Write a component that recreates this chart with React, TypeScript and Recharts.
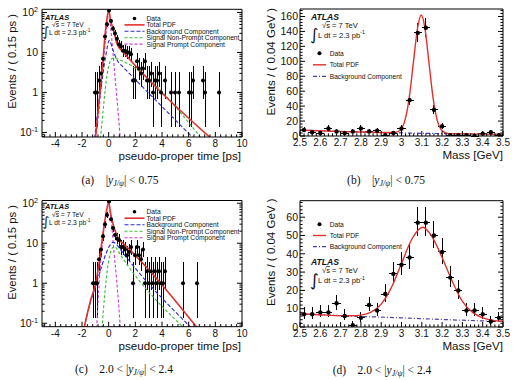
import React from 'react';
import { ComposedChart, Line, Scatter, XAxis, YAxis, ErrorBar } from 'recharts';

const SANS = '"Liberation Sans", Arial, Helvetica, sans-serif';
const SERIF = '"Liberation Serif", "Times New Roman", Times, serif';
const INK = '#111';
const RED = '#e3302c';
const BLUE = '#2a2ad4';
const GREEN = '#35c035';
const MAGENTA = '#cc3ccc';
const BKG_MASS = '#4a40b0';

// ---------------- Panel (a): |y| < 0.75, pseudo-proper time ----------------
const aTime = [-1.025, -0.875, -0.725, -0.575, -0.425, -0.275, -0.125, 0.025, 0.175, 0.325, 0.475, 0.625, 0.775, 0.925, 1.075, 1.225, 1.375, 1.525, 1.675, 1.825, 1.975, 2.125, 2.275, 2.425, 2.575, 2.725, 2.875, 3.025, 3.175, 3.325, 3.475, 3.625, 3.775, 3.925, 4.225, 4.675, 4.975, 5.275, 6.025, 6.175, 6.325, 7.075, 7.225, 8.275];
const aCounts = [1, 1, 2, 3, 7, 25, 51, 112, 61, 39, 30, 22, 16, 14, 11, 11, 10, 10, 9, 2, 2, 6, 4, 3, 4, 6, 2, 2, 3, 1, 2, 2, 3, 1, 2, 1, 1, 1, 1, 1, 2, 2, 1, 1];
const aTotalT = [-1.0, -0.78, -0.52, -0.4, -0.28, -0.15, 0.0, 0.15, 0.28, 0.43, 0.55, 0.73, 1.0, 7.6];
const aTotalV = [0.07, 0.37, 3, 8, 26, 62, 112, 62, 44, 30, 20, 14, 11, 0.075];
const aBkgT = [-1.05, -0.8, -0.5, -0.2, 0.05, 0.3, 0.5, 0.75, 1.0, 6.3];
const aBkgV = [0.07, 0.4, 2, 9, 20, 12, 8, 5.6, 4.6, 0.075];
const aNonPromptT = [-0.62, -0.4, -0.2, 0.0, 0.2, 0.35, 0.6, 1.0, 6.9];
const aNonPromptV = [0.07, 0.4, 1.8, 4.5, 6.8, 7.3, 7.0, 6.2, 0.075];
const aPromptT = [-0.95, -0.6, -0.4, -0.2, -0.05, 0.03, 0.15, 0.3, 0.5, 0.7, 0.87];
const aPromptV = [0.07, 1.0, 5.5, 28, 80, 92, 42, 12, 2.0, 0.35, 0.07];

// ---------------- Panel (c): 2.0 < |y| < 2.4, pseudo-proper time ----------------
const cTime = [-1.175, -1.025, -0.875, -0.725, -0.575, -0.425, -0.275, -0.125, 0.025, 0.175, 0.325, 0.475, 0.625, 0.775, 0.925, 1.075, 1.225, 1.375, 1.525, 1.675, 1.825, 1.975, 2.125, 2.275, 2.425, 2.575, 2.725, 2.875, 3.025, 3.175, 3.325, 3.475, 3.625, 3.775, 3.925, 4.075, 4.225, 5.575, 6.625];
const cCounts = [1, 1, 1, 4, 7, 15, 30, 51, 110, 40, 24, 16, 13, 12, 8, 8, 7, 5, 6, 8, 1, 5, 8, 5, 4, 7, 1, 2, 1, 2, 1, 2, 1, 2, 1, 1, 2, 1, 1];
const cTotalT = [-1.85, -1.35, -0.97, -0.7, -0.45, -0.2, 0.0, 0.15, 0.35, 0.55, 0.75, 1.0, 6.6];
const cTotalV = [0.075, 0.38, 1.0, 3.5, 15, 55, 106, 55, 28, 18, 12.5, 10.5, 0.08];
const cBkgT = [-1.85, -1.35, -1.0, -0.6, -0.2, 0.1, 0.3, 0.5, 0.75, 1.0, 6.15];
const cBkgV = [0.075, 0.35, 0.8, 2.2, 5.5, 9, 10.5, 10, 8, 6.2, 0.08];
const cNonPromptT = [-0.5, -0.3, -0.1, 0.1, 0.3, 0.45, 0.7, 1.0, 5.58];
const cNonPromptV = [0.075, 0.5, 2.2, 5.2, 7.8, 8.2, 6.4, 4.5, 0.08];
const cPromptT = [-0.9, -0.7, -0.45, -0.2, 0.0, 0.2, 0.4, 0.6, 0.88];
const cPromptV = [0.075, 1.2, 12, 50, 92, 35, 6, 1.2, 0.075];

// ---------------- Panel (b): |y| < 0.75, mass ----------------
const massBins = [2.52, 2.56, 2.6, 2.64, 2.68, 2.72, 2.76, 2.8, 2.84, 2.88, 2.92, 2.96, 3.0, 3.04, 3.08, 3.12, 3.16, 3.2, 3.24, 3.28, 3.32, 3.36, 3.4, 3.44, 3.48];
const bCounts = [8, 5, 4, 10, 6, 4, 6, 10, 6, 7, 1, 4, 10, 48, 138, 145, 35, 13, 1, 1, 1, 0, 3, 5, 1];
const bTotalM = [2.5, 2.7, 2.9, 2.96, 2.98, 3.0, 3.02, 3.04, 3.06, 3.08, 3.097, 3.115, 3.135, 3.155, 3.175, 3.195, 3.215, 3.24, 3.3, 3.5];
const bTotalV = [7.8, 6.1, 4.7, 4.6, 5.5, 10, 24, 55, 102, 146, 162, 145, 99, 52, 22, 8.5, 4.5, 3.2, 2.85, 2.15];
const bBkgM = [2.5, 2.75, 3.0, 3.25, 3.5];
const bBkgV = [7.8, 5.7, 4.1, 3.0, 2.15];

// ---------------- Panel (d): 2.0 < |y| < 2.4, mass ----------------
const dCounts = [7, 7, 8, 8, 13, 6, 1, 5, 12, 9, 18, 29, 34, 38, 57, 57, 50, 41, 27, 20, 9, 9, 7, 3, 5];
const dTotalM = [2.5, 2.6, 2.7, 2.75, 2.8, 2.85, 2.9, 2.95, 3.0, 3.05, 3.105, 3.15, 3.2, 3.25, 3.3, 3.35, 3.4, 3.45, 3.5];
const dTotalV = [7.2, 6.7, 6.2, 6.15, 6.5, 8.1, 12.5, 21.5, 34.7, 47.8, 54.5, 49.4, 38, 25, 14, 8, 5, 3.6, 3.0];
const dBkgM = [2.5, 2.75, 3.0, 3.25, 3.5];
const dBkgV = [7.2, 6.0, 5.0, 3.9, 3.0];

// ---------------- Ticks & labels ----------------
const timeMajors = [-4, -2, 0, 2, 4, 6, 8, 10];
const timeLabels = ['-4', '-2', '0', '2', '4', '6', '8', '10'];
const logMajors = [0.1, 1, 10, 100];
const logLabels = ['10^-1', '1', '10', '10^2'];
const massMajors = [2.5, 2.6, 2.7, 2.8, 2.9, 3.0, 3.1, 3.2, 3.3, 3.4, 3.5];
const massLabels = ['2.5', '2.6', '2.7', '2.8', '2.9', '3', '3.1', '3.2', '3.3', '3.4', '3.5'];
const bYMajors = [0, 20, 40, 60, 80, 100, 120, 140, 160];
const bYLabels = ['0', '20', '40', '60', '80', '100', '120', '140', '160'];
const dYMajors = [0, 10, 20, 30, 40, 50, 60];
const dYLabels = ['0', '10', '20', '30', '40', '50', '60'];

const legendTime = ['Data', 'Total PDF', 'Background Component', 'Signal Non-Prompt Component', 'Signal Prompt Component'];
const legendMass = ['Data', 'Total PDF', 'Background Component'];

// ---------------- helpers ----------------
const steps = (from: number, to: number, step: number) => {
  const out: number[] = [];
  const n = Math.round((to - from) / step);
  for (let k = 0; k <= n; k++) out.push(+(from + k * step).toFixed(6));
  return out;
};
const logTicks = (lo: number, hi: number) => {
  const out: number[] = [];
  [0.01, 0.1, 1, 10, 100].forEach((d) => {
    for (let k = 1; k <= 9; k++) {
      const v = +(k * d).toPrecision(6);
      if (v >= lo && v <= hi) out.push(v);
    }
  });
  return out;
};

const toPoints = (xs: number[], ns: number[], halfBin: number, yMin: number, yMax: number) =>
  xs.map((x, i) => {
    const n = ns[i];
    let lo = n > 0 ? Math.sqrt(n - 0.25) : 0;
    let hi = 1 + Math.sqrt(n + 0.75);
    if (yMin > 0) lo = Math.min(lo, n - yMin);
    hi = Math.min(hi, yMax - n);
    return { x, y: n, ey: [lo, hi], ex: halfBin };
  });
const toCurve = (xs: number[], ys: number[]) => xs.map((x, i) => ({ x, y: ys[i] }));

const XFS = 10;   // x tick label size
const YFS = 10.5; // y tick label size

const tickRenderer = (side: string, majors: number[], labels: string[] | null, fs: number, offset: number) =>
  (p: any) => {
    const v = p.payload ? p.payload.value : 0;
    const idx = majors.findIndex((m) => Math.abs(m - v) <= 1e-6 * Math.max(1, Math.abs(m)));
    const major = idx >= 0;
    const len = major ? 5 : 2.6;
    const x = p.x;
    const y = p.y;
    let line;
    if (side === 'bottom') line = <line x1={x} x2={x} y1={y} y2={y - len} stroke="#000" strokeWidth={1} />;
    else if (side === 'top') line = <line x1={x} x2={x} y1={y} y2={y + len} stroke="#000" strokeWidth={1} />;
    else if (side === 'left') line = <line x1={x} x2={x + len} y1={y} y2={y} stroke="#000" strokeWidth={1} />;
    else line = <line x1={x} x2={x - len} y1={y} y2={y} stroke="#000" strokeWidth={1} />;
    let label = null;
    if (major && labels) {
      const parts = labels[idx].split('^');
      const content = (
        <>
          {parts[0]}
          {parts.length > 1 ? (
            <tspan dy={-fs * 0.42} fontSize={fs * 0.68}>
              {parts[1]}
            </tspan>
          ) : null}
        </>
      );
      if (side === 'bottom')
        label = (
          <text x={x} y={y + offset} textAnchor="middle" fontSize={fs} fontFamily={SANS} fill={INK}>
            {content}
          </text>
        );
      else if (side === 'left')
        label = (
          <text x={x - offset} y={y + fs * 0.36} textAnchor="end" fontSize={fs} fontFamily={SANS} fill={INK}>
            {content}
          </text>
        );
    }
    return (
      <g>
        {line}
        {label}
      </g>
    );
  };

type CurveDef = { data: { x: number; y: number }[]; color: string; width: number; dash?: string };

// plot: {l, t, r, b} = plot-area edges in panel pixels
function Panel(props: any) {
  const {
    left, top, plot, xDomain, xTicks, xMajors, xLabels, yDomain, yScale, yTicks, yMajors, yLabels,
    points, curves, dotR, children, xLabelOffset, yLabelOffset,
  } = props;
  const W = 258;
  const H = 190;
  const A = 1; // axis thickness (axes with zero size are not drawn)
  const margin = { left: plot.l - A, top: plot.t - A, right: W - plot.r - A, bottom: H - plot.b - A };
  const axisLine = { stroke: '#000', strokeWidth: 1 };
  return (
    <div style={{ position: 'absolute', left, top, width: W, height: H }}>
      <ComposedChart width={W} height={H} margin={margin}>
        <XAxis xAxisId="b" type="number" dataKey="x" domain={xDomain} allowDataOverflow ticks={xTicks} interval={0}
          height={A} tickSize={0} tickMargin={0} tickLine={false} axisLine={axisLine}
          tick={tickRenderer('bottom', xMajors, xLabels, XFS, xLabelOffset)} />
        <XAxis xAxisId="t" orientation="top" type="number" domain={xDomain} allowDataOverflow ticks={xTicks} interval={0}
          height={A} tickSize={0} tickMargin={0} tickLine={false} axisLine={axisLine}
          tick={tickRenderer('top', xMajors, null, XFS, 0)} />
        <YAxis yAxisId="l" type="number" dataKey="y" scale={yScale} domain={yDomain} allowDataOverflow ticks={yTicks}
          interval={0} width={A} tickSize={0} tickMargin={0} tickLine={false} axisLine={axisLine}
          tick={tickRenderer('left', yMajors, yLabels, YFS, yLabelOffset)} />
        <YAxis yAxisId="r" orientation="right" type="number" scale={yScale} domain={yDomain} allowDataOverflow
          ticks={yTicks} interval={0} width={A} tickSize={0} tickMargin={0} tickLine={false} axisLine={axisLine}
          tick={tickRenderer('right', yMajors, null, YFS, 0)} />
        <Scatter xAxisId="b" yAxisId="l" data={points} dataKey="y" isAnimationActive={false}
          shape={(p: any) => <circle cx={p.cx} cy={p.cy} r={dotR} fill="#000" />}>
          <ErrorBar dataKey="ey" direction="y" width={0} stroke="#000" strokeWidth={1} shapeRendering="crispEdges" />
          <ErrorBar dataKey="ex" direction="x" width={0} stroke="#000" strokeWidth={1} shapeRendering="crispEdges" />
        </Scatter>
        {curves.map((c: CurveDef, i: number) => (
          <Line key={i} xAxisId="b" yAxisId="l" data={c.data} dataKey="y" type="monotone" stroke={c.color}
            strokeWidth={c.width} strokeDasharray={c.dash} dot={false} activeDot={false} isAnimationActive={false} />
        ))}
      </ComposedChart>
      <svg width={W} height={H} style={{ position: 'absolute', left: 0, top: 0, pointerEvents: 'none' }}>
        {children}
      </svg>
    </div>
  );
}

function Legend(props: any) {
  const { x0, x1, tx, y0, dy, labels, styles, fs, r } = props;
  return (
    <g>
      {labels.map((lab: string, i: number) => {
        const y = y0 + i * dy;
        const st = styles[i];
        return (
          <g key={i}>
            {st.kind === 'dot' ? (
              <circle cx={(x0 + x1) / 2} cy={y} r={r} fill="#000" />
            ) : (
              <line x1={x0} x2={x1} y1={y} y2={y} stroke={st.color} strokeWidth={st.width} strokeDasharray={st.dash} />
            )}
            <text x={tx} y={y + fs * 0.36} fontSize={fs} fontFamily={SANS} fill={INK}>
              {lab}
            </text>
          </g>
        );
      })}
    </g>
  );
}

function Atlas(props: any) {
  const { ax, ay, afs, sx, sy, lx, ly, fs, ix, iy, ifs } = props;
  return (
    <g fill={INK} fontFamily={SANS}>
      <text x={ax} y={ay} fontSize={afs} fontWeight="bold" fontStyle="italic">ATLAS</text>
      <text x={ix} y={iy} fontSize={ifs} fontFamily='"DejaVu Sans", sans-serif'>∫</text>
      <text x={sx} y={sy} fontSize={fs}>
        √<tspan textDecoration="overline">s</tspan> = 7 TeV
      </text>
      <text x={lx} y={ly} fontSize={fs}>
        L dt = 2.3 pb<tspan dy={-fs * 0.42} fontSize={fs * 0.7}>-1</tspan>
      </text>
    </g>
  );
}

function Caption(props: any) {
  const { cx, y, tag, pre, post } = props;
  return (
    <text x={cx} y={y} textAnchor="middle" fontFamily={SERIF} fontSize={11.5} fill={INK}>
      {tag}
      {'\u2003'}
      {pre}|<tspan fontStyle="italic">y</tspan>
      <tspan fontStyle="italic" fontSize={8} dy={2.2}>J/ψ</tspan>
      <tspan dy={-2.2}>|</tspan>
      {post}
    </text>
  );
}

const timeStyles = [
  { kind: 'dot' },
  { kind: 'line', color: RED, width: 1.6 },
  { kind: 'line', color: BLUE, width: 1.1, dash: '4 2' },
  { kind: 'line', color: GREEN, width: 1.1, dash: '3 2' },
  { kind: 'line', color: MAGENTA, width: 1.1, dash: '3 2' },
];
const massStyles = [
  { kind: 'dot' },
  { kind: 'line', color: RED, width: 1.4 },
  { kind: 'line', color: BKG_MASS, width: 1.2, dash: '4 2 1 2' },
];

export default function App() {
  const aDom = [0.077, 120];
  const cDom = [0.082, 117];
  const bDom = [0, 170];
  const dDom = [0, 69];
  const timeTicks = steps(-4.8, 10, 0.4);
  const massTicks = steps(2.5, 3.5, 0.02);
  const TFS = 11.6; // axis title size

  const timeCurves = (tot: any, bkg: any, np: any, pr: any): CurveDef[] => [
    { data: pr, color: MAGENTA, width: 1.1, dash: '3 2' },
    { data: np, color: GREEN, width: 1.1, dash: '3 2' },
    { data: bkg, color: BLUE, width: 1.1, dash: '4 2' },
    { data: tot, color: RED, width: 1.6 },
  ];

  return (
    <div style={{ position: 'absolute', left: 0, top: 0, width: 516, height: 380, background: '#fff', overflow: 'hidden' }}>
      {/* (a) */}
      <Panel left={0} top={0} plot={{ l: 42, t: 9.3, r: 242, b: 137 }}
        xDomain={[-5, 10]} xTicks={timeTicks} xMajors={timeMajors} xLabels={timeLabels} xLabelOffset={10}
        yDomain={aDom} yScale="log" yTicks={logTicks(aDom[0], aDom[1])} yMajors={logMajors} yLabels={logLabels} yLabelOffset={4}
        points={toPoints(aTime, aCounts, 0.075, aDom[0], aDom[1])}
        curves={timeCurves(toCurve(aTotalT, aTotalV), toCurve(aBkgT, aBkgV), toCurve(aNonPromptT, aNonPromptV), toCurve(aPromptT, aPromptV))}
        dotR={2}>
        <text transform="translate(15.5, 14) rotate(-90)" textAnchor="end" fontSize={11.3} fontFamily={SANS} fill={INK}>Events / ( 0.15 ps )</text>
        <text x={241} y={159.8} textAnchor="end" fontSize={TFS} fontFamily={SANS} fill={INK}>pseudo-proper time [ps]</text>
        <Atlas ax={45} ay={19.5} afs={7.4} sx={52} sy={27.3} lx={49} ly={34.5} fs={6.7} ix={42.5} iy={35.5} ifs={13} />
        <Legend x0={124.5} x1={144.5} tx={146.5} y0={18.5} dy={6.4} labels={legendTime} styles={timeStyles} fs={6.7} r={1.8} />
        <Caption cx={120} y={184} tag="(a)" pre="" post=" < 0.75" />
      </Panel>

      {/* (b) */}
      <Panel left={258} top={0} plot={{ l: 42, t: 9, r: 245, b: 136 }}
        xDomain={[2.5, 3.5]} xTicks={massTicks} xMajors={massMajors} xLabels={massLabels} xLabelOffset={10}
        yDomain={bDom} yScale="linear" yTicks={steps(0, 168, 4)} yMajors={bYMajors} yLabels={bYLabels} yLabelOffset={2}
        points={toPoints(massBins, bCounts, 0.02, 0, bDom[1])}
        curves={[
          { data: toCurve(bBkgM, bBkgV), color: BKG_MASS, width: 1.2, dash: '4 2 1 2' },
          { data: toCurve(bTotalM, bTotalV), color: RED, width: 1.4 },
        ]}
        dotR={2.2}>
        <text transform="translate(17, 8) rotate(-90)" textAnchor="end" fontSize={11.5} fontFamily={SANS} fill={INK}>Events / ( 0.04 GeV )</text>
        <text x={245} y={158.8} textAnchor="end" fontSize={TFS} fontFamily={SANS} fill={INK}>Mass [GeV]</text>
        <Atlas ax={53} ay={20} afs={8.6} sx={64} sy={28} lx={60} ly={37.5} fs={7.6} ix={52} iy={39.5} ifs={16} />
        <Legend x0={55} x1={68} tx={71.7} y0={53.3} dy={11.5} labels={legendMass} styles={massStyles} fs={6.7} r={2} />
        <Caption cx={128} y={184} tag="(b)" pre="" post=" < 0.75" />
      </Panel>

      {/* (c) */}
      <Panel left={0} top={190} plot={{ l: 42, t: 10.5, r: 242, b: 136.7 }}
        xDomain={[-5, 10]} xTicks={timeTicks} xMajors={timeMajors} xLabels={timeLabels} xLabelOffset={10}
        yDomain={cDom} yScale="log" yTicks={logTicks(cDom[0], cDom[1])} yMajors={logMajors} yLabels={logLabels} yLabelOffset={4}
        points={toPoints(cTime, cCounts, 0.075, cDom[0], cDom[1])}
        curves={timeCurves(toCurve(cTotalT, cTotalV), toCurve(cBkgT, cBkgV), toCurve(cNonPromptT, cNonPromptV), toCurve(cPromptT, cPromptV))}
        dotR={2}>
        <text transform="translate(15.5, 15) rotate(-90)" textAnchor="end" fontSize={11.3} fontFamily={SANS} fill={INK}>Events / ( 0.15 ps )</text>
        <text x={241} y={159.5} textAnchor="end" fontSize={TFS} fontFamily={SANS} fill={INK}>pseudo-proper time [ps]</text>
        <Atlas ax={45} ay={19.3} afs={7.4} sx={52} sy={27.3} lx={49} ly={34.5} fs={6.7} ix={42.5} iy={35.5} ifs={13} />
        <Legend x0={124.5} x1={144.5} tx={146.5} y0={21.7} dy={6.5} labels={legendTime} styles={timeStyles} fs={6.7} r={1.8} />
        <Caption cx={124} y={182.5} tag="(c)" pre="2.0 < " post=" < 2.4" />
      </Panel>

      {/* (d) */}
      <Panel left={258} top={190} plot={{ l: 42, t: 10.7, r: 245, b: 137 }}
        xDomain={[2.5, 3.5]} xTicks={massTicks} xMajors={massMajors} xLabels={massLabels} xLabelOffset={10}
        yDomain={dDom} yScale="linear" yTicks={steps(0, 68, 2)} yMajors={dYMajors} yLabels={dYLabels} yLabelOffset={2}
        points={toPoints(massBins, dCounts, 0.02, 0, dDom[1])}
        curves={[
          { data: toCurve(dBkgM, dBkgV), color: BKG_MASS, width: 1.2, dash: '4 2 1 2' },
          { data: toCurve(dTotalM, dTotalV), color: RED, width: 1.4 },
        ]}
        dotR={2.2}>
        <text transform="translate(17, 8.5) rotate(-90)" textAnchor="end" fontSize={11.5} fontFamily={SANS} fill={INK}>Events / ( 0.04 GeV )</text>
        <text x={245} y={159.8} textAnchor="end" fontSize={TFS} fontFamily={SANS} fill={INK}>Mass [GeV]</text>
        <Legend x0={55} x1={68} tx={71.7} y0={34.3} dy={11.2} labels={legendMass} styles={massStyles} fs={6.7} r={2} />
        <Atlas ax={53} ay={75} afs={8.6} sx={64} sy={83.3} lx={60} ly={93} fs={7.6} ix={52} iy={96} ifs={17} />
        <Caption cx={124} y={184} tag="(d)" pre="2.0 < " post=" < 2.4" />
      </Panel>
    </div>
  );
}
